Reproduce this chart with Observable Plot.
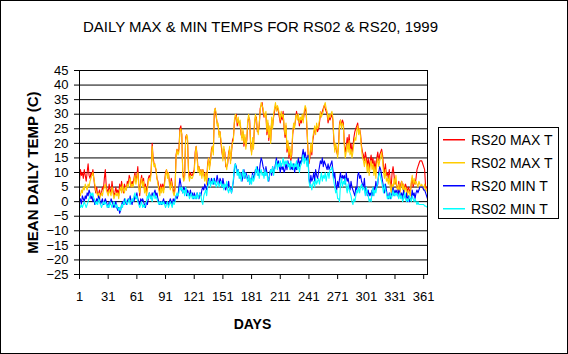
<!DOCTYPE html>
<html><head><meta charset="utf-8">
<script src="https://cdn.jsdelivr.net/npm/d3@7"></script>
<script src="https://cdn.jsdelivr.net/npm/@observablehq/plot@0.6"></script>
<style>
html,body{margin:0;padding:0;background:#fff;}
#chart{position:relative;width:568px;height:354px;}
svg{display:block;}
</style></head><body><div id="chart"></div>
<script>
// Daily values, day 1..365
const rs20Max = [
7,11,9,10,8,11,9,7,10,13, 9,8,10,9,11,8,5,3,5,2, 3,4,2,3,5,4,8,11,5,4, 3,6,4,3,7,4,2,3,5,3,
4,2,6,4,7,5,3,6,5,4, 7,6,9,8,5,7,6,8,10,7, 9,12,6,2,7,9,6,8,4,6, 3,5,8,9,8,11,20,15,13,12,
11,8,7,5,3,6,4,6,4,7, 10,11,9,10,7,5,8,6,4,3, 5,16,18,17,18,25,26,23,10,8, 9,22,23,21,11,8,10,9,9,10,
11,17,19,16,11,12,10,11,9,11, 10,8,10,7,13,15,12,14,18,19, 17,30,32,29,27,26,23,24,20,17, 15,18,17,12,12,13,17,18,14,17,
21,22,27,29,30,26,28,27,27,23, 22,24,19,22,19,21,27,29,28,19, 17,21,19,26,29,29,24,24,26,32, 33,34,31,29,30,30,23,27,21,25,
21,28,26,29,31,33,32,32,31,29, 27,30,28,31,25,22,26,17,20,15, 18,14,16,23,26,26,28,31,29,29, 26,28,27,29,28,30,32,31,24,17,
13,15,19,16,21,23,25,24,26,24, 25,27,30,30,31,32,33,32,31,30, 27,29,28,29,30,28,21,18,19,17, 16,20,27,28,26,28,27,20,17,19,
22,19,23,18,20,17,19,22,24,25, 26,27,24,25,23,19,17,16,14,17, 15,12,15,11,14,16,13,15,11,14, 10,15,17,14,16,17,18,16,12,10,
13,9,10,8,11,7,5,10,12,9, 6,7,5,4,7,3,6,7,5,6, 4,6,5,3,5,4,3,6,8,5, 7,6,8,11,12,13,14,14,14,13,
12,11,5,5,4
];
const rs02Max = [
3,2,4,3,5,4,6,5,4,6, 5,7,8,9,10,8,6,4,3,2, 3,1,2,3,2,4,5,6,4,3, 2,4,3,2,5,3,1,2,3,2,
3,1,4,5,3,6,4,3,5,4, 6,5,7,8,5,6,5,7,9,6, 8,10,5,3,6,8,5,7,3,5, 2,4,7,8,7,10,19,14,12,13,
11,8,6,4,2,5,3,5,3,6, 9,11,8,10,6,4,7,5,3,2, 4,15,18,16,17,24,25,23,9,7, 8,21,23,22,10,7,9,8,8,9,
10,16,19,15,10,12,9,11,8,11, 9,7,10,6,12,15,11,14,17,19, 16,31,32,30,26,27,22,24,21,18, 14,19,16,13,11,14,16,19,13,18,
20,21,28,30,29,27,29,26,28,24, 21,25,20,23,18,22,28,30,27,20, 16,22,18,27,30,28,25,23,27,31, 34,33,32,30,29,31,24,28,22,26,
20,29,25,30,32,34,31,33,32,30, 28,31,29,30,26,23,27,18,21,16, 19,15,17,24,27,25,29,30,28,30, 27,29,28,30,27,31,33,32,25,18,
14,16,20,17,22,24,26,23,27,25, 26,28,31,29,30,31,33,34,32,31, 28,30,29,30,31,29,22,17,20,18, 15,19,26,28,25,27,26,19,15,17,
20,17,21,16,18,15,17,20,22,21, 24,26,23,25,22,18,15,14,12,15, 13,10,13,9,12,14,11,13,9,12, 8,13,15,12,14,15,17,14,10,8,
11,7,8,6,9,5,3,6,4,8, 6,9,5,4,6,3,5,7,4,6, 3,5,4,2,4,3,2,7,9,6, 8,6,7,6,5,7,6,5,6,5,
4,6,4,4,3
];
const rs20Min = [
0,1,-1,2,1,0,2,1,3,2, 4,3,1,2,0,1,-1,0,1,0, 2,1,-1,0,1,-1,0,1,0,-1, -2,0,-1,1,0,-1,-2,-1,0,-2,
-3,-2,-4,-3,-1,0,-1,1,0,-1, 0,1,0,2,0,-1,1,0,2,1, 3,1,0,-1,1,0,1,0,-1,-2, 0,-1,1,3,2,1,3,2,3,4,
2,3,1,0,-1,0,-1,0,1,-1, 0,-1,0,-1,0,1,0,-1,1,0, 1,2,1,2,5,8,6,4,3,5, 4,5,2,4,3,2,4,2,3,1,
3,2,1,3,2,1,3,2,4,5, 4,6,5,4,6,8,7,6,8,7, 6,8,6,7,9,7,6,8,7,5, 8,6,5,4,6,5,7,4,5,3,
5,7,11,13,12,10,11,9,8,10, 7,9,11,8,10,9,7,9,6,8, 7,10,8,9,11,10,12,9,10,13, 15,14,12,11,9,12,10,8,7,10,
11,9,12,10,11,13,15,12,14,12, 10,13,11,12,10,11,13,11,14,12, 13,11,12,11,13,10,12,11,13,15, 12,14,13,16,18,15,17,15,14,16,
8,6,9,7,8,10,7,11,9,8, 10,12,14,13,15,12,14,13,12,11, 13,11,12,13,14,11,8,10,6,4, 7,5,8,10,7,9,8,9,6,10,
7,8,6,4,7,5,4,3,2,5, 4,9,10,8,9,7,6,5,8,3, 5,2,4,2,3,2,4,2,5,4, 7,5,6,10,12,11,9,7,5,3,
6,4,2,1,3,1,2,3,5,2, 4,3,4,2,4,3,2,3,1,4, 2,1,3,0,2,0,1,1,4,2, 3,1,3,4,3,4,5,5,5,5,
4,4,3,2,1
];
const rs02Min = [
-1,-2,-1,-2,-1,0,-1,-2,-1,0, 1,2,3,2,3,1,0,-1,0,-1, 1,0,-1,-2,-1,0,-1,0,-1,-2, -1,-2,0,-1,-2,-1,0,-1,-2,-1,
-2,-3,-2,-3,-1,-2,0,-1,1,0, -1,0,1,-1,0,1,0,2,3,1, 2,0,-1,-2,-1,0,-2,-1,-2,-1, 0,2,1,3,1,2,0,2,3,1,
2,1,0,-1,0,-1,0,-1,0,-1, -2,-1,0,-2,-1,0,-1,-2,0,-1, 0,2,3,2,3,5,4,5,3,4, 2,5,3,2,3,1,2,3,1,2,
1,2,1,3,1,2,3,2,0,-1, 2,3,4,2,5,6,8,5,7,6, 8,6,7,5,6,7,5,6,7,5, 6,4,6,5,7,4,3,5,4,3,
5,8,12,13,11,9,11,8,10,7, 9,11,8,10,9,8,7,9,6,8, 6,9,7,8,10,12,9,11,8,10, 11,9,10,8,11,9,10,7,8,9,
11,10,12,9,11,12,14,11,13,12, 14,12,13,15,12,14,13,14,12,13, 11,14,12,13,11,13,12,14,11,13, 10,12,13,14,16,13,15,14,12,15,
7,5,6,4,6,7,5,8,6,7, 8,6,8,10,7,9,8,10,7,9, 10,8,11,11,12,9,7,5,3,4, 1,1,0,6,8,5,7,6,8,5,
3,6,4,3,2,0,-1,1,0,2, 4,3,5,3,5,6,4,5,4,2, 5,3,2,0,1,0,3,5,2,4, 3,5,7,9,10,8,7,5,3,6,
4,3,1,2,1,3,1,2,4,2, 3,2,3,2,1,3,1,2,0,1, 3,1,0,1,0,2,1,0,2,1, 0,1,0,-1,0,-1,-1,-1,-1,-1,
-1,-1.5,-1.5,-1.8,-1.8
];
const seriesNames = ["RS20 MAX T", "RS02 MAX T", "RS20 MIN T", "RS02 MIN T"];
const seriesColors = ["#FF0000", "#FFCC00", "#0000FF", "#00FFFF"];
const yTicks = [-25, -20, -15, -10, -5, 0, 5, 10, 15, 20, 25, 30, 35, 40, 45];
const xTicks = [1, 31, 61, 91, 121, 151, 181, 211, 241, 271, 301, 331, 361];
const titleText = "DAILY MAX & MIN TEMPS FOR RS02 & RS20, 1999";
const yLabel = "MEAN DAILY TEMP (C)";
const xLabel = "DAYS";

const arrays = [rs20Max, rs02Max, rs20Min, rs02Min];
arrays.forEach((a, k) => { if (a.length !== 365) throw new Error(seriesNames[k] + " length " + a.length); });
const data = [];
arrays.forEach((arr, k) => arr.forEach((v, i) => data.push({day: i + 1, temp: v, series: seriesNames[k]})));

const font = "'Liberation Sans', Arial, sans-serif";
const chart = Plot.plot({
  width: 568, height: 354,
  marginLeft: 79, marginRight: 141, marginTop: 70, marginBottom: 80,
  style: {fontFamily: font, fontSize: "13px", background: "white", color: "black", overflow: "visible"},
  x: {domain: [1, 365]},
  y: {domain: [-25, 45]},
  color: {domain: seriesNames, range: seriesColors},
  marks: [
    Plot.gridY(yTicks, {stroke: "black", strokeOpacity: 1, strokeWidth: 1}),
    Plot.lineY(data, {x: "day", y: "temp", z: "series", stroke: "series", strokeWidth: 1.1}),
    Plot.frame({stroke: "black"}),
    Plot.axisY(yTicks, {tickSize: 5, tickPadding: 6, label: null, fontSize: 13}),
    Plot.axisX(xTicks, {tickSize: 5, tickPadding: 12, label: null, fontSize: 13})
  ]
});
document.getElementById("chart").appendChild(chart);

const svg = d3.select(chart);
svg.append("rect").attr("x", 0.5).attr("y", 0.5).attr("width", 567).attr("height", 353)
  .attr("fill", "none").attr("stroke", "black");
svg.append("text").attr("x", 260.5).attr("y", 31.5).attr("text-anchor", "middle")
  .attr("font-family", font).attr("font-size", 15).attr("fill", "black").text(titleText);
svg.append("text").attr("transform", "translate(38,172.5) rotate(-90)").attr("text-anchor", "middle")
  .attr("font-family", font).attr("font-size", 15).attr("font-weight", "bold").attr("fill", "black").text(yLabel);
svg.append("text").attr("x", 252.5).attr("y", 328.5).attr("text-anchor", "middle")
  .attr("font-family", font).attr("font-size", 14).attr("font-weight", "bold").attr("fill", "black").text(xLabel);

const lg = svg.append("g");
lg.append("rect").attr("x", 438.5).attr("y", 127.5).attr("width", 120).attr("height", 91)
  .attr("fill", "white").attr("stroke", "black");
seriesNames.forEach((name, i) => {
  const cy = 139 + i * 23;
  lg.append("rect").attr("x", 443).attr("y", cy).attr("width", 22).attr("height", 1.5)
    .style("fill", seriesColors[i]).style("stroke", "none");
  lg.append("text").attr("x", 471).attr("y", cy + 5.5).attr("text-anchor", "start")
    .attr("font-family", font).attr("font-size", 14).attr("fill", "black").text(name);
});
</script></body></html>
